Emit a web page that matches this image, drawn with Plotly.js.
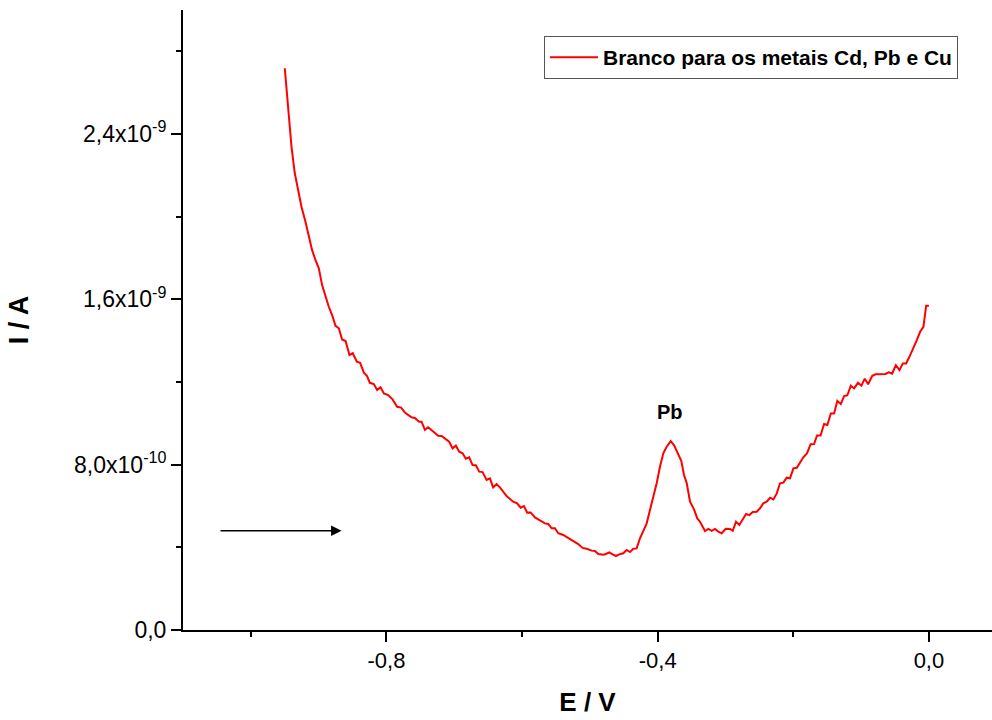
<!DOCTYPE html>
<html>
<head>
<meta charset="utf-8">
<script src="https://cdn.plot.ly/plotly-3.0.1.min.js"></script>
<style>
  html, body { margin: 0; padding: 0; background: #fff; }
  #chart { width: 992px; height: 720px; }
</style>
</head>
<body>
<div id="chart"></div>
<script>
// Potential E (V)
const E = [
  -0.9499, -0.9450, -0.9400, -0.9352, -0.9303, -0.9253, -0.9194, -0.9145, -0.9096, -0.9046,
  -0.8997, -0.8949, -0.8899, -0.8850, -0.8801, -0.8751, -0.8702, -0.8654, -0.8603, -0.8545,
  -0.8496, -0.8437, -0.8388, -0.8333, -0.8285, -0.8245, -0.8186, -0.8137, -0.8087, -0.8038,
  -0.7975, -0.7910, -0.7842, -0.7783, -0.7724, -0.7630, -0.7581, -0.7518, -0.7482, -0.7433,
  -0.7385, -0.7311, -0.7237, -0.7187, -0.7113, -0.7075, -0.7025, -0.6976, -0.6927, -0.6877,
  -0.6829, -0.6780, -0.6730, -0.6681, -0.6632, -0.6582, -0.6523, -0.6474, -0.6426, -0.6376,
  -0.6327, -0.6228, -0.6131, -0.6072, -0.6021, -0.5973, -0.5924, -0.5874, -0.5810, -0.5747,
  -0.5663, -0.5614, -0.5564, -0.5515, -0.5467, -0.5393, -0.5319, -0.5245, -0.5172, -0.5107,
  -0.5048, -0.4974, -0.4925, -0.4876, -0.4803, -0.4763, -0.4714, -0.4664, -0.4615, -0.4567,
  -0.4508, -0.4457, -0.4409, -0.4360, -0.4310, -0.4261, -0.4212, -0.4162, -0.4114, -0.4065,
  -0.4015, -0.3966, -0.3917, -0.3867, -0.3808, -0.3760, -0.3711, -0.3652, -0.3612, -0.3572,
  -0.3523, -0.3464, -0.3416, -0.3376, -0.3302, -0.3253, -0.3203, -0.3155, -0.3106, -0.3056,
  -0.2997, -0.2933, -0.2893, -0.2845, -0.2796, -0.2746, -0.2697, -0.2648, -0.2598, -0.2539,
  -0.2491, -0.2442, -0.2392, -0.2343, -0.2294, -0.2244, -0.2196, -0.2147, -0.2097, -0.2048,
  -0.1999, -0.1949, -0.1900, -0.1852, -0.1797, -0.1745, -0.1694, -0.1650, -0.1598, -0.1546,
  -0.1498, -0.1447, -0.1399, -0.1350, -0.1300, -0.1251, -0.1203, -0.1152, -0.1104, -0.1045,
  -0.0996, -0.0946, -0.0897, -0.0838, -0.0789, -0.0720, -0.0642, -0.0592, -0.0543, -0.0488,
  -0.0435, -0.0385, -0.0336, -0.0288, -0.0229, -0.0179, -0.0130, -0.0081, -0.0041, 0.0000
];
// Current I (nA)
const I_nA = [
  2.718, 2.516, 2.338, 2.211, 2.129, 2.048, 1.975, 1.911, 1.838, 1.790,
  1.750, 1.669, 1.613, 1.564, 1.524, 1.472, 1.460, 1.406, 1.398, 1.330,
  1.339, 1.298, 1.293, 1.245, 1.229, 1.196, 1.190, 1.161, 1.174, 1.145,
  1.137, 1.116, 1.080, 1.076, 1.051, 1.029, 1.026, 1.008, 1.008, 0.968,
  0.981, 0.959, 0.940, 0.939, 0.923, 0.911, 0.879, 0.892, 0.863, 0.855,
  0.829, 0.836, 0.798, 0.797, 0.766, 0.764, 0.726, 0.734, 0.690, 0.706,
  0.690, 0.648, 0.621, 0.613, 0.592, 0.600, 0.568, 0.569, 0.545, 0.532,
  0.516, 0.513, 0.492, 0.492, 0.468, 0.460, 0.444, 0.432, 0.416, 0.397,
  0.393, 0.384, 0.382, 0.368, 0.364, 0.368, 0.376, 0.366, 0.358, 0.366,
  0.371, 0.387, 0.377, 0.393, 0.395, 0.444, 0.479, 0.516, 0.581, 0.645,
  0.710, 0.790, 0.855, 0.887, 0.914, 0.895, 0.858, 0.819, 0.750, 0.711,
  0.621, 0.584, 0.540, 0.524, 0.479, 0.489, 0.480, 0.489, 0.476, 0.468,
  0.490, 0.489, 0.480, 0.524, 0.508, 0.532, 0.561, 0.556, 0.571, 0.572,
  0.589, 0.613, 0.621, 0.640, 0.632, 0.661, 0.710, 0.713, 0.737, 0.734,
  0.782, 0.785, 0.813, 0.836, 0.856, 0.899, 0.900, 0.941, 0.941, 0.997,
  0.992, 1.048, 1.048, 1.109, 1.093, 1.132, 1.136, 1.182, 1.169, 1.196,
  1.182, 1.216, 1.189, 1.229, 1.237, 1.239, 1.239, 1.247, 1.240, 1.281,
  1.258, 1.290, 1.290, 1.322, 1.363, 1.403, 1.443, 1.467, 1.569, 1.569
];
const seriesName = 'Branco para os metais Cd, Pb e Cu';
const xTickVals = [-0.8, -0.4, 0.0];
const xTickText = ['-0,8', '-0,4', '0,0'];
const xMinorVals = [-1.0, -0.6, -0.2];
const yTickVals = [0, 8e-10, 1.6e-9, 2.4e-9];
const yTickText = ['0,0', '8,0x10<sup>-10</sup>', '1,6x10<sup>-9</sup>', '2,4x10<sup>-9</sup>'];
const yMinorVals = [4e-10, 1.2e-9, 2.0e-9, 2.8e-9];
const peakLabel = {text: 'Pb', E: -0.382, I: 1.055e-9};
const scanArrow = {fromE: -1.0469, toE: -0.8662, I: 4.80e-10};

const I = I_nA.map(v => v * 1e-9);

const FONT = 'Liberation Sans, Arial, sans-serif';

const trace = {
  x: E, y: I, type: 'scatter', mode: 'lines', name: seriesName,
  line: {color: '#ff0000', width: 2}
};

const layout = {
  width: 992, height: 720,
  margin: {l: 183, r: 0, t: 10, b: 90},
  paper_bgcolor: '#ffffff', plot_bgcolor: '#ffffff',
  font: {family: FONT, color: '#000'},
  showlegend: true,
  legend: {
    x: 0.4462, y: 0.958, xanchor: 'left', yanchor: 'top',
    bgcolor: '#ffffff', bordercolor: '#555555', borderwidth: 1,
    itemwidth: 48,
    font: {family: FONT, size: 21, color: '#000', weight: 'bold'}
  },
  xaxis: {
    range: [-1.1, 0.093], autorange: false,
    showgrid: false, zeroline: false,
    showline: true, linecolor: '#000', linewidth: 2,
    ticks: 'outside', ticklen: 10, tickwidth: 2, tickcolor: '#000',
    tickmode: 'array', tickvals: xTickVals, ticktext: xTickText,
    tickfont: {family: FONT, size: 22, color: '#000'},
    minor: {tickmode: 'array', tickvals: xMinorVals, ticks: 'outside', ticklen: 5, tickwidth: 2, tickcolor: '#000', showgrid: false},
    title: {text: 'E / V', font: {family: FONT, size: 26, color: '#000', weight: 'bold'}, standoff: 20},
    automargin: false
  },
  yaxis: {
    range: [0, 3.0e-9], autorange: false,
    showgrid: false, zeroline: false,
    showline: true, linecolor: '#000', linewidth: 2,
    ticks: 'outside', ticklen: 10, tickwidth: 2, tickcolor: '#000',
    tickmode: 'array', tickvals: yTickVals, ticktext: yTickText,
    tickfont: {family: FONT, size: 23, color: '#000'},
    minor: {tickmode: 'array', tickvals: yMinorVals, ticks: 'outside', ticklen: 5, tickwidth: 2, tickcolor: '#000', showgrid: false},
    title: {text: 'I / A', font: {family: FONT, size: 27, color: '#000', weight: 'bold'}, standoff: 38},
    automargin: false
  },
  annotations: [
    {
      x: peakLabel.E, y: peakLabel.I, xref: 'x', yref: 'y',
      text: '<b>' + peakLabel.text + '</b>', showarrow: false,
      font: {family: FONT, size: 20, color: '#000'}
    },
    {
      x: scanArrow.toE, y: scanArrow.I, xref: 'x', yref: 'y',
      ax: scanArrow.fromE, ay: scanArrow.I, axref: 'x', ayref: 'y',
      text: '', showarrow: true, arrowhead: 2, arrowsize: 1.4, arrowwidth: 1.5, arrowcolor: '#000'
    }
  ]
};

Plotly.newPlot('chart', [trace], layout, {displayModeBar: false, staticPlot: true});
</script>
</body>
</html>
